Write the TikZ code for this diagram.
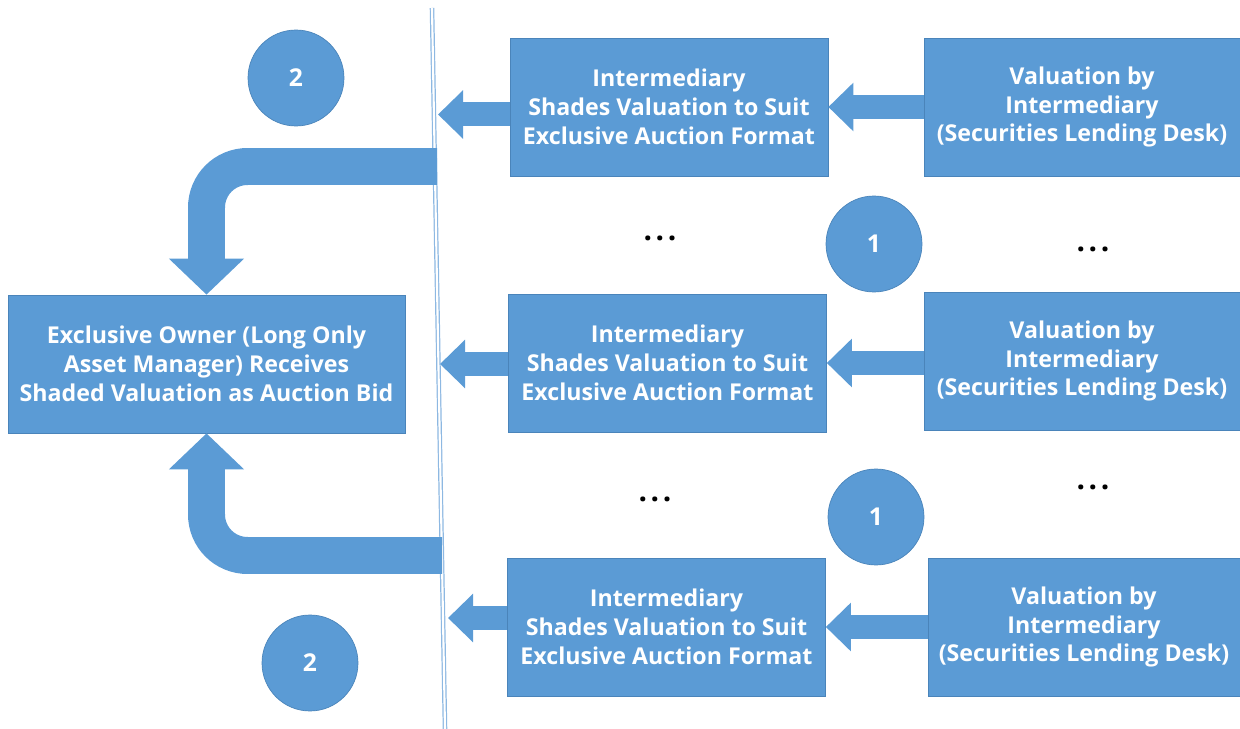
\documentclass[tikz,border=0pt]{standalone}
\usepackage{fontspec}
\setmainfont{Open Sans}
\usetikzlibrary{arrows.meta}
\definecolor{boxblue}{HTML}{5B9BD5}
\definecolor{edgeblue}{HTML}{4A84BA}
\definecolor{lineblue}{HTML}{8DB8E2}

\begin{document}
\begin{tikzpicture}[x=.02cm, y=-.02cm,
    box/.style={draw=edgeblue, line width=.4, fill=boxblue, text=white,
      font=\bfseries\fontsize{13.2}{16.4}\selectfont, align=center,
      minimum width=6.36cm, minimum height=2.76cm, inner sep=0},
    badge/.style={circle, fill=boxblue, draw=edgeblue, line width=.4, text=white,
      font=\bfseries\fontsize{14}{16}\selectfont, minimum size=1.92cm, inner sep=0},
    dots/.style={font=\bfseries\fontsize{17}{18}\selectfont},
    flat/.style={boxblue, line width=.48cm, -{Triangle[length=.5cm, width=.94cm]}},
    bent/.style={boxblue, line width=.74cm, rounded corners=.82cm,
      -{Triangle[length=.72cm, width=1.46cm]}}]
    \useasboundingbox (0, 0) rectangle (1240, 729);

    % divider
    \coordinate (top) at (432, 8);
    \coordinate (bot) at (445, 729);
    \draw[lineblue, line width=.7pt, double=white, double distance=1.2pt] (top) -- (bot);

    \node[box, minimum width=7.94cm] (owner) at (206.5, 364)
      {Exclusive Owner (Long Only\\Asset Manager) Receives\\Shaded Valuation as Auction Bid};

    \node[box] (m1) at (669, 107) {Intermediary\\Shades Valuation to Suit\\Exclusive Auction Format};
    \node[box] (m2) at (667.5, 363) {Intermediary\\Shades Valuation to Suit\\Exclusive Auction Format};
    \node[box] (m3) at (666.5, 627) {Intermediary\\Shades Valuation to Suit\\Exclusive Auction Format};

    \node[box, minimum width=6.32cm] (r1) at (1082, 107) {Valuation by\\Intermediary\\(Securities Lending Desk)};
    \node[box, minimum width=6.32cm] (r2) at (1082, 361) {Valuation by\\Intermediary\\(Securities Lending Desk)};
    \node[box, minimum width=6.24cm] (r3) at (1084, 627) {Valuation by\\Intermediary\\(Securities Lending Desk)};

    \draw[flat] (r1.west) -- (m1.east);
    \draw[flat] (r2.west |- m2.east) -- (m2.east);
    \draw[flat] (r3.west) -- (m3.east);

    \coordinate (d1) at (438, 114.5);
    \coordinate (d2) at (440, 364);
    \coordinate (d3) at (448, 618);
    \draw[flat] (m1.west |- d1) -- (d1);
    \draw[flat] (m2.west |- d2) -- (d2);
    \draw[flat] (m3.west |- d3) -- (d3);

    \coordinate (b1) at (437, 166.5);
    \coordinate (b2) at (442, 555.5);
    \draw[bent] (b1) -| (owner.north);
    \draw[bent] (b2) -| (owner.south);

    \node[badge] (c2a) at (296, 78) {2};
    \node[badge] (c1a) at (874, 244) {1};
    \node[badge] (c1b) at (876, 517) {1};
    \node[badge] (c2b) at (310, 663) {2};

    \node[dots] (g1) at (660, 238) {.\hspace{.12em}.\hspace{.12em}.};
    \node[dots] (g2) at (1093, 249) {.\hspace{.12em}.\hspace{.12em}.};
    \node[dots] (g3) at (655, 499) {.\hspace{.12em}.\hspace{.12em}.};
    \node[dots] (g4) at (1093, 487) {.\hspace{.12em}.\hspace{.12em}.};
  \end{tikzpicture}
\end{document}
